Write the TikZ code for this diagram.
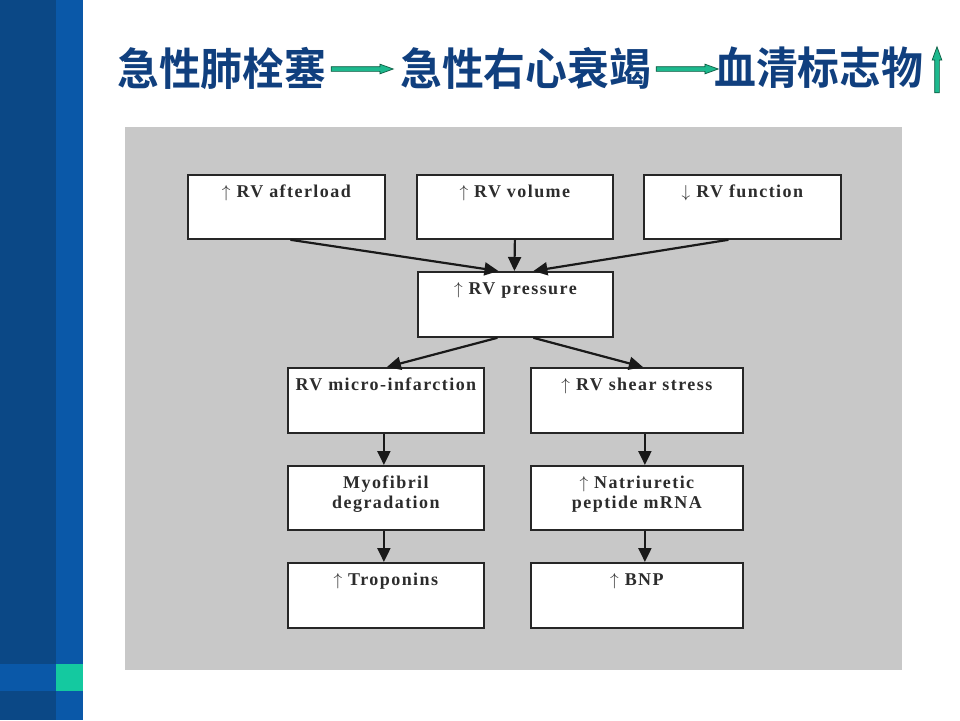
\documentclass[tikz,border=0pt]{standalone}
\usepackage{fontspec}
\setmainfont{Liberation Serif}
\newfontfamily\cjk{Noto Sans CJK SC Bold}
\usetikzlibrary{arrows.meta,shapes.arrows,calc}
\definecolor{barDark}{HTML}{0B4886}
\definecolor{barLight}{HTML}{0A58A8}
\definecolor{accent}{HTML}{14C9A0}
\definecolor{titleBlue}{HTML}{103F7E}
\definecolor{panel}{HTML}{C8C8C8}
\definecolor{arrGreen}{HTML}{1DB98E}
\definecolor{arrEdge}{HTML}{0C5A40}
\definecolor{ink}{HTML}{2C2C2C}
\tikzset{
  x=1pt, y=-1pt,
  boxs/.style={draw=black!85, line width=1.8pt, fill=white, inner xsep=3pt, inner ysep=9pt, anchor=north west, font=\bfseries\fontsize{18}{20}\selectfont\addfontfeature{LetterSpace=8}, text=ink},
  conn/.style={draw=black!90, line width=2.2pt, -{Triangle[length=14pt,width=13pt]}},
  ttl/.style={font=\cjk\fontsize{41}{44}\selectfont, text=titleBlue, inner sep=0pt, anchor=west},
  garrow/.style={single arrow, fill=arrGreen, draw=arrEdge, line width=0.7pt, inner xsep=0pt, inner ysep=2pt, minimum width=9.5pt, single arrow head extend=2.5pt, single arrow head indent=0pt, single arrow tip angle=40},
}
\newcommand{\bx}[3]{\parbox[c][#2][t]{#1}{\centering\strut #3}}
\newcommand{\ttltext}[1]{\scalebox{1.02}[1.08]{#1}}
\begin{document}
\begin{tikzpicture}
\useasboundingbox (0,0) rectangle (960,720);
% left bar
\fill[barDark] (0,0) rectangle (56,720);
\fill[barLight] (56,0) rectangle (83,720);
\fill[barLight] (0,664) rectangle (56,691);
\fill[accent] (56,664) rectangle (83,691);
% title
\node[ttl] (t1) at (117,68) {\ttltext{急性肺栓塞}};
\node[ttl] (t2) at (400,68) {\ttltext{急性右心衰竭}};
\node[ttl] (t3) at (714,68) {\ttltext{血清标志物}};
\node[garrow, minimum height=62pt] (a1) at (359,69) {};
\node[garrow, minimum height=62pt] (a2) at (684,69) {};
\node[garrow, minimum height=46pt, rotate=90] (a3) at (937,73) {};
% panel
\fill[panel] (125,127) rectangle (902,670);
% boxes
\node[boxs] (b1) at (187,174) {\bx{191pt}{46pt}{$\uparrow$ RV afterload}};
\node[boxs] (b2) at (416,174) {\bx{190pt}{46pt}{$\uparrow$ RV volume}};
\node[boxs] (b3) at (643,174) {\bx{191pt}{46pt}{$\downarrow$ RV function}};
\node[boxs] (p)  at (417,271) {\bx{189pt}{47pt}{$\uparrow$ RV pressure}};
\node[boxs] (l1) at (287,367) {\bx{190pt}{47pt}{RV micro-infarction}};
\node[boxs] (r1) at (530,367) {\bx{206pt}{47pt}{$\uparrow$ RV shear stress}};
\node[boxs] (l2) at (287,465) {\bx{190pt}{46pt}{Myofibril\\degradation}};
\node[boxs] (r2) at (530,465) {\bx{206pt}{46pt}{$\uparrow$ Natriuretic\\peptide mRNA}};
\node[boxs] (l3) at (287,562) {\bx{190pt}{47pt}{$\uparrow$ Troponins}};
\node[boxs] (r3) at (530,562) {\bx{206pt}{47pt}{$\uparrow$ BNP}};
% connectors
\draw[conn] ([xshift=4pt]b1.south) -- ([xshift=-17pt]p.north);
\draw[conn] (b2.south) -- ([xshift=-1pt]p.north);
\draw[conn] ([xshift=-14pt]b3.south) -- ([xshift=18pt]p.north);
\draw[conn] ([xshift=-18pt]p.south) -- ([xshift=1pt]l1.north);
\draw[conn] ([xshift=18pt]p.south) -- ([xshift=6pt]r1.north);
\draw[conn] ([xshift=-2pt]l1.south) -- ([xshift=-2pt]l2.north);
\draw[conn] ([xshift=-2pt]l2.south) -- ([xshift=-2pt]l3.north);
\draw[conn] ([xshift=8pt]r1.south) -- ([xshift=8pt]r2.north);
\draw[conn] ([xshift=8pt]r2.south) -- ([xshift=8pt]r3.north);
\end{tikzpicture}
\end{document}
